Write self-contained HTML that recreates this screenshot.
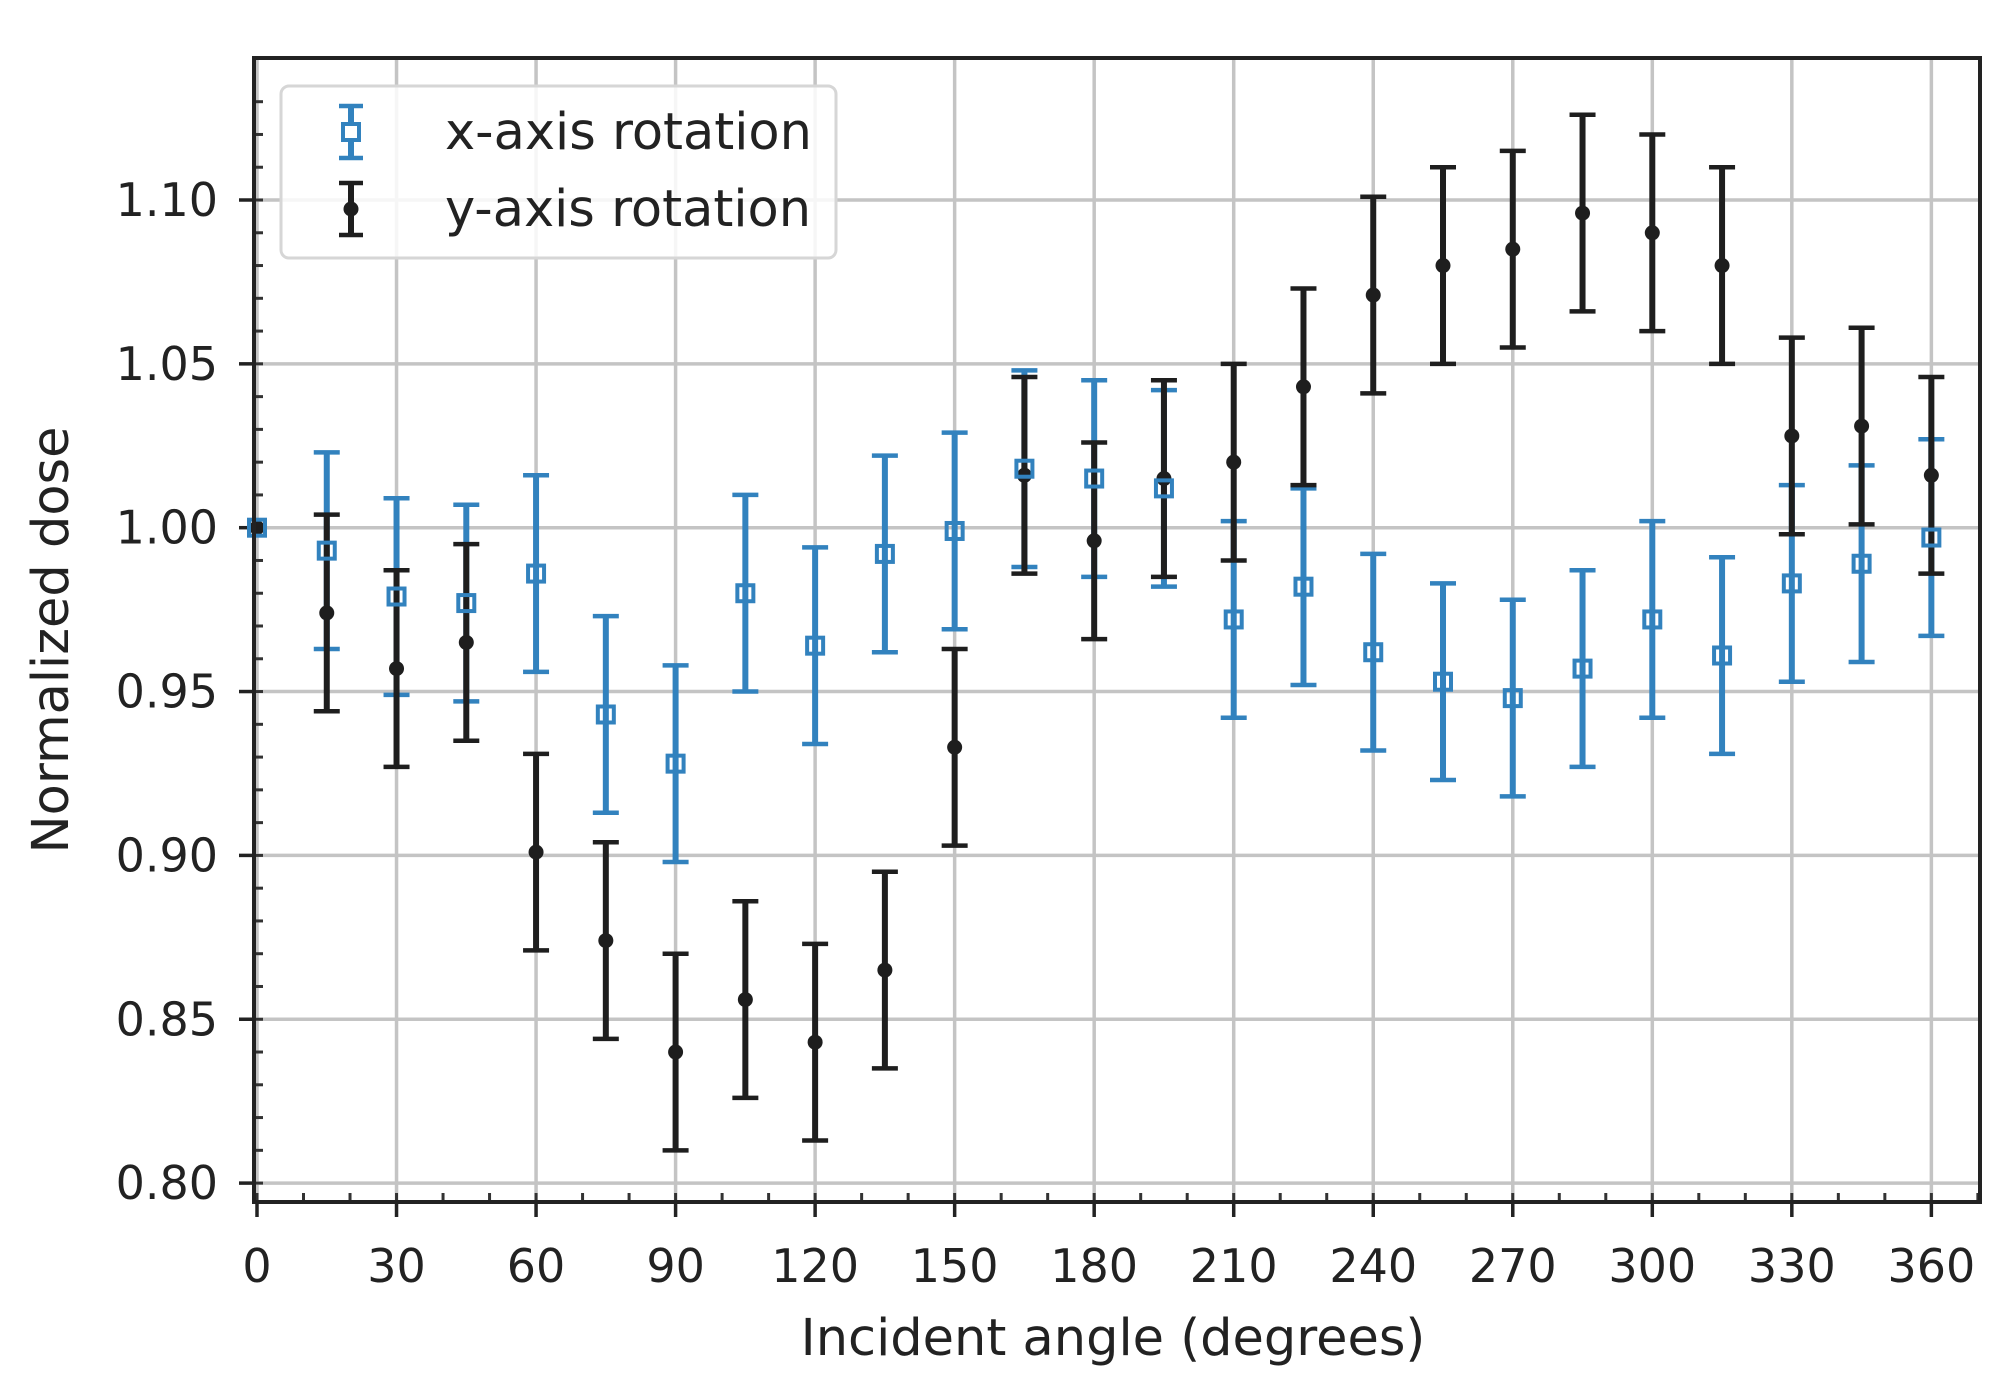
<!DOCTYPE html>
<html><head><meta charset="utf-8"><style>
html,body{margin:0;padding:0;background:#fff;}
svg text{font-family:"DejaVu Sans","Liberation Sans",sans-serif;fill:#222;}
</style></head><body>
<svg id="s" width="2002" height="1386" xmlns="http://www.w3.org/2000/svg"></svg>
<script>
const s=document.getElementById('s');
let h='';
const X=d=>257+d*4.651, Y=v=>200+(1.10-v)*3277;
const L=254,R=1980,T=58,B=1202;
for(let d=0;d<=360;d+=30)h+=`<line x1="${X(d)}" y1="${T}" x2="${X(d)}" y2="${B}" stroke="#c4c4c4" stroke-width="3.5"/>`;
for(let i=0;i<=6;i++){const v=0.80+i*0.05;h+=`<line x1="${L}" y1="${Y(v)}" x2="${R}" y2="${Y(v)}" stroke="#c4c4c4" stroke-width="3.5"/>`;}
for(let d=0;d<=370;d+=10){if(X(d)>R)break;h+=`<line x1="${X(d)}" y1="${B}" x2="${X(d)}" y2="${B-9}" stroke="#333" stroke-width="3"/>`;}
for(let i=0;i<=34;i++){const v=0.79+i*0.01;const y=Y(v);if(y<T||y>B)continue;h+=`<line x1="${L}" y1="${y}" x2="${L+9}" y2="${y}" stroke="#333" stroke-width="3"/>`;}
for(let d=0;d<=360;d+=30){h+=`<line x1="${X(d)}" y1="${B}" x2="${X(d)}" y2="${B+15}" stroke="#222" stroke-width="3.5"/><text x="${X(d)}" y="${B+80}" font-size="46" text-anchor="middle">${d}</text>`;}
for(let i=0;i<=6;i++){const v=0.80+i*0.05;h+=`<line x1="${L-15}" y1="${Y(v)}" x2="${L}" y2="${Y(v)}" stroke="#222" stroke-width="3.5"/><text x="${L-36}" y="${Y(v)+16}" font-size="46" text-anchor="end">${v.toFixed(2)}</text>`;}
h+=`<text x="1113" y="1355" font-size="51" text-anchor="middle">Incident angle (degrees)</text>`;
h+=`<text transform="translate(68,640) rotate(-90)" font-size="51" text-anchor="middle">Normalized dose</text>`;
const bx=[1.000,0.993,0.979,0.977,0.986,0.943,0.928,0.980,0.964,0.992,0.999,1.018,1.015,1.012,0.972,0.982,0.962,0.953,0.948,0.957,0.972,0.961,0.983,0.989,0.997];
const by=[1.000,0.974,0.957,0.965,0.901,0.874,0.840,0.856,0.843,0.865,0.933,1.016,0.996,1.015,1.020,1.043,1.071,1.080,1.085,1.096,1.090,1.080,1.028,1.031,1.016];
const eb=(x,v,c)=>{const e=v===1.000?0:0.03;if(!e)return '';return `<line x1="${x}" y1="${Y(v-e)}" x2="${x}" y2="${Y(v+e)}" stroke="${c}" stroke-width="6"/><line x1="${x-13}" y1="${Y(v-e)}" x2="${x+13}" y2="${Y(v-e)}" stroke="${c}" stroke-width="4.5"/><line x1="${x-13}" y1="${Y(v+e)}" x2="${x+13}" y2="${Y(v+e)}" stroke="${c}" stroke-width="4.5"/>`;};
const BL='#3282be',BK='#1e1e1e';
bx.forEach((v,i)=>{const x=X(i*15);h+=eb(x,v,BL);});
by.forEach((v,i)=>{const x=X(i*15);h+=eb(x,v,BK);h+=`<circle cx="${x}" cy="${Y(v)}" r="7.5" fill="${BK}"/>`;});
bx.forEach((v,i)=>{const x=X(i*15);h+=`<rect x="${x-8}" y="${Y(v)-8}" width="16" height="16" fill="none" stroke="${BL}" stroke-width="4"/>`;});
h+=`<rect x="${L}" y="${T}" width="${R-L}" height="${B-T}" fill="none" stroke="#222" stroke-width="4"/>`;
h+=`<rect x="281" y="86" width="555" height="172" rx="8" fill="#fff" fill-opacity="0.85" stroke="#d6d6d6" stroke-width="3"/>`;
h+=`<line x1="351" y1="106" x2="351" y2="158" stroke="${BL}" stroke-width="6"/><line x1="339" y1="106" x2="363" y2="106" stroke="${BL}" stroke-width="4.5"/><line x1="339" y1="158" x2="363" y2="158" stroke="${BL}" stroke-width="4.5"/><rect x="343" y="124" width="16" height="16" fill="#fff" stroke="${BL}" stroke-width="4"/>`;
h+=`<line x1="351" y1="183" x2="351" y2="235" stroke="${BK}" stroke-width="6"/><line x1="339" y1="183" x2="363" y2="183" stroke="${BK}" stroke-width="4.5"/><line x1="339" y1="235" x2="363" y2="235" stroke="${BK}" stroke-width="4.5"/><circle cx="351" cy="209" r="7.5" fill="${BK}"/>`;
h+=`<text x="445" y="149" font-size="51">x-axis rotation</text><text x="445" y="226" font-size="51">y-axis rotation</text>`;
s.innerHTML=h;
</script>
</body></html>
